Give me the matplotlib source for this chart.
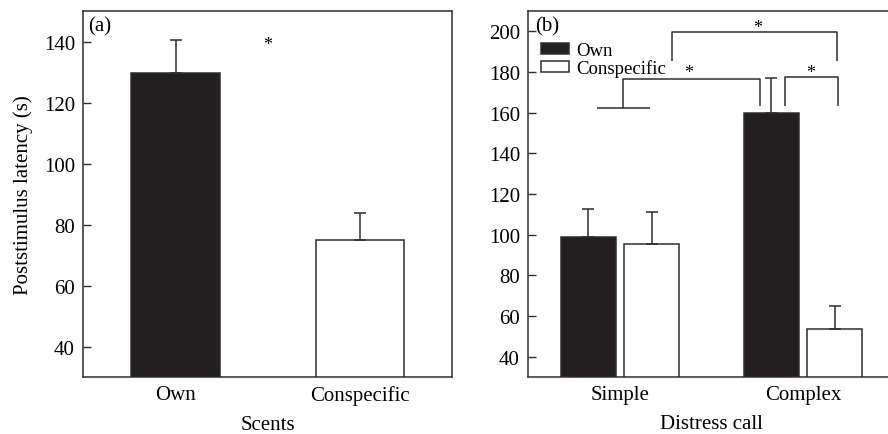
import matplotlib
matplotlib.use("Agg")
import matplotlib.pyplot as plt
from matplotlib.patches import Patch
import numpy as np

# ---- data ----
scents = ["Own", "Conspecific"]
scent_means = [129.6, 75.0]
scent_err = [11.0, 8.8]

calls = ["Simple", "Complex"]
own_means = [99.1, 160.0]
own_err = [13.4, 17.1]
consp_means = [95.5, 53.4]
consp_err = [15.7, 11.6]

yticks_a = [40, 60, 80, 100, 120, 140]
yticks_b = [40, 60, 80, 100, 120, 140, 160, 180, 200]

# ---- style ----
plt.rcParams["font.family"] = ["Liberation Serif", "DejaVu Serif"]
BLACK = "#231f20"
LINE = "#2e2e2e"
FS = 15

fig = plt.figure(figsize=(8.88, 4.35), dpi=100)
ax1 = fig.add_axes([0.0938, 0.131, 0.4155, 0.8414])
ax2 = fig.add_axes([0.5949, 0.131, 0.4124, 0.8414])

for ax in (ax1, ax2):
    for s in ax.spines.values():
        s.set_color(LINE)
        s.set_linewidth(1.1)
    ax.tick_params(axis="y", direction="in", length=6, width=1.0, color=LINE,
                   labelsize=FS, pad=6)
    ax.tick_params(axis="x", length=0, labelsize=FS, pad=6)

err_kw = dict(ecolor=LINE, elinewidth=1.1, capsize=4, capthick=1.1)

# ---- panel (a) ----
xa = np.arange(len(scents))
ax1.bar(xa, scent_means, width=0.48, color=[BLACK, "white"],
        edgecolor=LINE, linewidth=1.1,
        yerr=[[0, 0], scent_err], error_kw=err_kw, zorder=2)
ax1.set_xlim(-0.5, 1.5)
ax1.set_ylim(30, 150)
ax1.set_yticks(yticks_a)
ax1.set_xticks(xa)
ax1.set_xticklabels(scents)
ax1.set_xlabel("Scents", fontsize=FS, labelpad=7)
ax1.set_ylabel("Poststimulus latency (s)", fontsize=FS, labelpad=8)
ax1.text(0.012, 0.985, "(a)", transform=ax1.transAxes, fontsize=FS,
         ha="left", va="top")
ax1.text(0.5, 137.6, "*", fontsize=13, ha="center", va="baseline")

# ---- panel (b) ----
xb = np.arange(len(calls))
off = 0.173
w = 0.30
ax2.bar(xb - off, own_means, width=w, color=BLACK, edgecolor=LINE,
        linewidth=1.1, yerr=[[0, 0], own_err], error_kw=err_kw,
        label="Own", zorder=2)
ax2.bar(xb + off, consp_means, width=w, color="white", edgecolor=LINE,
        linewidth=1.1, yerr=[[0, 0], consp_err], error_kw=err_kw,
        label="Conspecific", zorder=2)
ax2.set_xlim(-0.5, 1.5)
ax2.set_ylim(30, 210)
ax2.set_yticks(yticks_b)
ax2.set_xticks(xb)
ax2.set_xticklabels(calls)
ax2.set_xlabel("Distress call", fontsize=FS, labelpad=7)
ax2.text(0.02, 0.985, "(b)", transform=ax2.transAxes, fontsize=FS,
         ha="left", va="top")

handles = [Patch(facecolor=BLACK, edgecolor=LINE, linewidth=1.1, label="Own"),
           Patch(facecolor="white", edgecolor=LINE, linewidth=1.1,
                 label="Conspecific")]
ax2.legend(handles=handles, loc="upper left", bbox_to_anchor=(0.0355, 0.915),
           frameon=False, fontsize=13.5, borderpad=0, borderaxespad=0,
           handlelength=1.5, handleheight=0.55, handletextpad=0.35,
           labelspacing=0.0)

# significance brackets (annotation geometry)
lk = dict(color=LINE, lw=1.1, solid_capstyle="butt")
ax2.plot([-0.123, 0.163], [162.2, 162.2], **lk)
ax2.plot([0.016, 0.016, 0.766, 0.766], [162.2, 176.8, 176.8, 163.2], **lk)
ax2.plot([0.902, 0.902, 1.193, 1.193], [163.4, 177.6, 177.6, 163.4], **lk)
ax2.plot([0.283, 0.283, 1.188, 1.188], [185.4, 199.8, 199.8, 185.4], **lk)
ax2.text(0.378, 177.5, "*", fontsize=13, ha="center", va="baseline")
ax2.text(1.04, 177.5, "*", fontsize=13, ha="center", va="baseline")
ax2.text(0.753, 199.8, "*", fontsize=13, ha="center", va="baseline")

fig.savefig("out.png", dpi=100)
